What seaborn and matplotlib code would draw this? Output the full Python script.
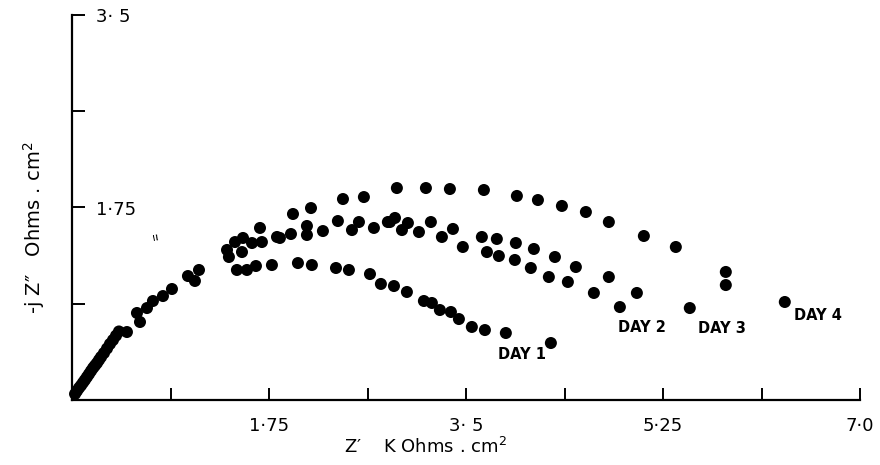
import pandas as pd
import matplotlib
matplotlib.use('Agg')
import matplotlib.pyplot as plt
import seaborn as sns

# impedance (Nyquist) data, Z' and -jZ'' in KOhms.cm2
day1_zr = [0.027, 0.044, 0.062, 0.080, 0.098, 0.115, 0.133, 0.151, 0.169, 0.187,
           0.204, 0.222, 0.240, 0.258, 0.284, 0.311, 0.337, 0.364, 0.391, 0.417,
           0.488, 0.577, 0.604, 0.666, 0.719, 0.808, 0.888, 1.030, 1.092, 1.128,
           1.465, 1.554, 1.634, 1.776, 2.007, 2.131, 2.345, 2.460, 2.647, 2.744,
           2.860, 2.975, 3.126, 3.197, 3.268, 3.366, 3.437, 3.552, 3.668, 3.854,
           4.254]
day1_zi = [0.055, 0.082, 0.109, 0.132, 0.158, 0.182, 0.209, 0.236, 0.264, 0.291,
           0.313, 0.336, 0.364, 0.391, 0.427, 0.468, 0.509, 0.545, 0.585, 0.623,
           0.618, 0.791, 0.709, 0.836, 0.900, 0.945, 1.009, 1.127, 1.082, 1.182,
           1.182, 1.182, 1.218, 1.227, 1.245, 1.227, 1.200, 1.182, 1.145, 1.055,
           1.036, 0.982, 0.900, 0.882, 0.818, 0.800, 0.736, 0.664, 0.636, 0.609,
           0.518]

day2_zr = [1.394, 1.510, 1.687, 1.847, 1.945, 2.087, 2.229, 2.487, 2.682, 2.806,
           2.931, 3.082, 3.286, 3.472, 3.686, 3.792, 3.934, 4.076, 4.236, 4.405,
           4.636, 4.867]
day2_zi = [1.300, 1.345, 1.436, 1.473, 1.509, 1.500, 1.536, 1.545, 1.564, 1.618,
           1.545, 1.527, 1.482, 1.391, 1.345, 1.309, 1.273, 1.200, 1.118, 1.073,
           0.973, 0.845]

day3_zr = [1.377, 1.448, 1.519, 1.599, 1.821, 2.087, 2.362, 2.549, 2.824, 2.869,
           2.984, 3.188, 3.384, 3.641, 3.774, 3.943, 4.103, 4.290, 4.476, 4.769,
           5.018, 5.488, 5.808]
day3_zi = [1.364, 1.436, 1.473, 1.427, 1.482, 1.582, 1.627, 1.618, 1.618, 1.655,
           1.609, 1.618, 1.555, 1.482, 1.464, 1.427, 1.373, 1.300, 1.209, 1.118,
           0.973, 0.836, 1.045]

day4_zr = [1.670, 1.963, 2.123, 2.407, 2.593, 2.886, 3.144, 3.357, 3.659, 3.952,
           4.139, 4.352, 4.565, 4.769, 5.080, 5.364, 5.808, 6.332]
day4_zi = [1.564, 1.691, 1.745, 1.827, 1.845, 1.927, 1.927, 1.918, 1.909, 1.855,
           1.818, 1.764, 1.709, 1.618, 1.491, 1.391, 1.164, 0.891]

days = ['DAY 1', 'DAY 2', 'DAY 3', 'DAY 4']
label_x = [4.00, 5.06, 5.77, 6.63]
label_y = [0.41, 0.66, 0.65, 0.77]

x_major = [1.75, 3.5, 5.25, 7.0]
x_minor = [0.875, 2.625, 4.375, 6.125]
x_labels = ['1·75', '3· 5', '5·25', '7·0']
y_major = [1.75, 3.5]
y_minor = [0.875, 2.625]
y_labels = ['1·75', '3· 5']

frames = []
for name, zr, zi in zip(days, [day1_zr, day2_zr, day3_zr, day4_zr],
                        [day1_zi, day2_zi, day3_zi, day4_zi]):
    frames.append(pd.DataFrame({'zr': zr, 'zi': zi, 'day': name}))
df = pd.concat(frames, ignore_index=True)

sns.set_style('white')
plt.rcParams['font.family'] = ['DejaVu Sans']
plt.rcParams['text.color'] = 'black'
plt.rcParams['axes.labelcolor'] = 'black'

fig = plt.figure(figsize=(8.8, 4.65), dpi=100)
ax = fig.add_axes([72 / 880, 65 / 465, 788 / 880, 385 / 465])

sns.scatterplot(data=df, x='zr', y='zi', hue='day', palette=['black'] * 4,
                s=75, linewidth=0, legend=False, ax=ax, clip_on=False)

for name, lx, ly in zip(days, label_x, label_y):
    ax.text(lx, ly, name, ha='center', va='center', fontsize=10.5,
            fontweight='bold', color='black')

# stray pen mark on the original
ax.text(0.74, 1.48, 'ıı', fontsize=8, rotation=10, color='black',
        ha='center', va='center')

ax.set_xlim(0, 7.0)
ax.set_ylim(0, 3.5)
ax.set_xticks(x_major)
ax.set_xticklabels(x_labels)
ax.set_xticks(x_minor, minor=True)
ax.set_yticks(y_major)
ax.set_yticklabels(y_labels)
ax.set_yticks(y_minor, minor=True)

ax.tick_params(which='both', direction='in', length=9, width=1.4,
               colors='black', bottom=True, left=True, labelsize=13)
ax.tick_params(axis='x', which='major', pad=12)
ax.tick_params(axis='y', which='major', pad=-17)
for lab in ax.get_yticklabels():
    lab.set_horizontalalignment('left')

sns.despine(ax=ax)
for side in ['left', 'bottom']:
    ax.spines[side].set_color('black')
    ax.spines[side].set_linewidth(1.6)

ax.set_xlabel('Z′    K Ohms . cm$^{2}$', fontsize=13, color='black')
ax.xaxis.set_label_coords(0.448, -0.095)
ax.set_ylabel('-j Z″   Ohms . cm$^{2}$', fontsize=14, color='black')
ax.yaxis.set_label_coords(-0.032, 0.447)

fig.savefig('out.png', dpi=100)
